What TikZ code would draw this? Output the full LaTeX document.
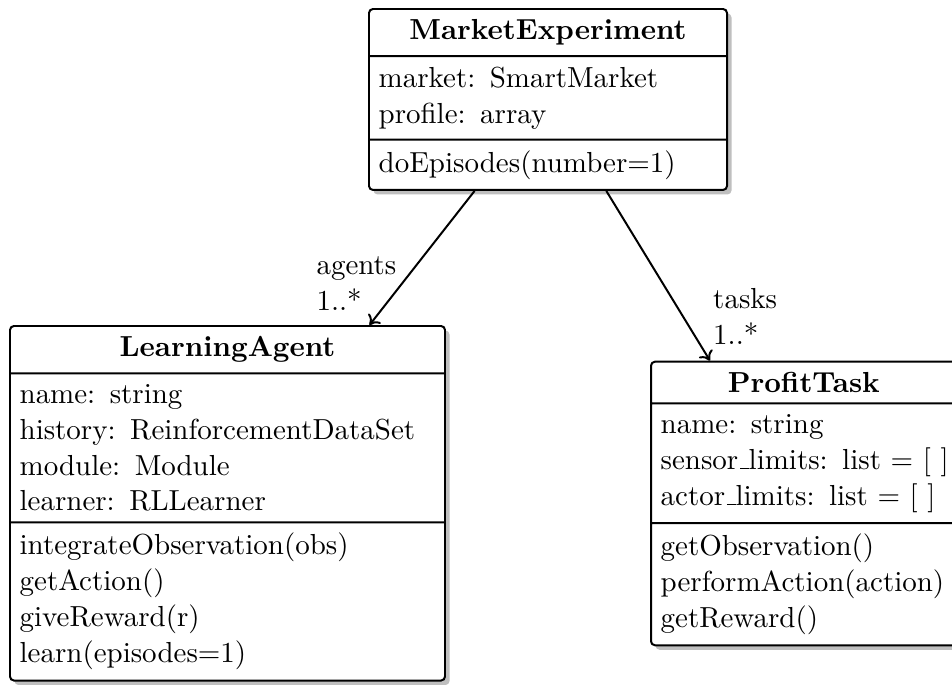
\documentclass[11pt,tikz,border=0pt]{standalone}
\usetikzlibrary{shapes.multipart,shadows,calc,arrows.meta}

% low underscore rule, as in the classic text fonts
\newcommand\lowbar{\leavevmode\kern.06em\vbox{\hrule width.3em}}
% centred class name across the full part width
\newcommand\classname[1]{\makebox[\hsize][c]{\textbf{#1}}}

\tikzset{
  umlclass/.style={
    rectangle split, rectangle split parts=3,
    draw, line width=0.75pt, fill=white, rounded corners=1.5pt,
    align=left, anchor=north west,
    drop shadow={shadow xshift=1.7pt, shadow yshift=-1.7pt, fill=black!25, opacity=1}
  },
  assoc/.style={line width=0.75pt, -{To[length=3.4pt,width=6pt]}},
  rolelabel/.style={align=left, anchor=west, inner sep=0pt}
}

\begin{document}
\begin{tikzpicture}[x=0.37793pt, y=-0.37793pt]
  \path[use as bounding box, clip] (0,0) rectangle (952,684);

  % classes
  \node[umlclass, text width=128pt] (me) at (368,8) {%
    \classname{MarketExperiment}
    \nodepart{two} market: SmartMarket\\profile: array
    \nodepart{three} doEpisodes(number=1)};

  \node[umlclass, text width=157.1pt] (la) at (9,325) {%
    \classname{LearningAgent}
    \nodepart{two} name: string\\history: ReinforcementDataSet\\module: Module\\learner: RLLearner
    \nodepart{three} integrateObservation(obs)\\getAction()\\giveReward(r)\\learn(episodes=1)};

  \node[umlclass, text width=108.2pt] (pt) at (650,360.7) {%
    \classname{ProfitTask}
    \nodepart{two} name: string\\\mbox{sensor\lowbar limits: list $=$ [\ ]}\\\mbox{actor\lowbar limits: list $=$ [\ ]}
    \nodepart{three} getObservation()\\performAction(action)\\getReward()};

  % associations
  \draw[assoc] ($(me.south west)!0.296!(me.south east)$) -- ($(la.north west)!0.825!(la.north east)$);
  \draw[assoc] ($(me.south west)!0.662!(me.south east)$) -- ($(pt.north west)+(60,0)$);

  % role names and multiplicities
  \node[rolelabel] (agl) at (316,283.4) {agents\\1..*};
  \node[rolelabel] (tkl) at (712.7,316.3) {tasks\\1..*};
\end{tikzpicture}
\end{document}
